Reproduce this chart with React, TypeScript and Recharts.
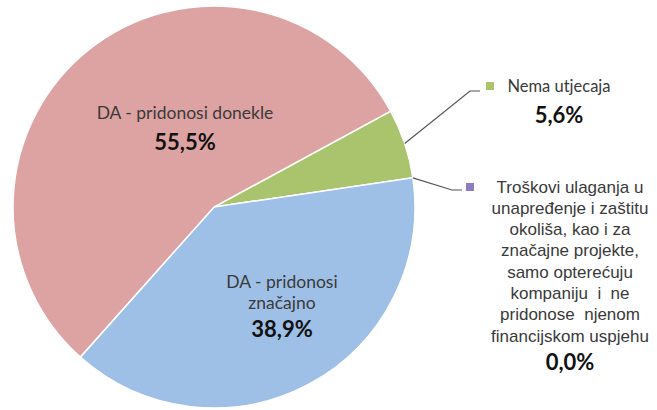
import React from "react";
import { Cell, Pie, PieChart } from "recharts";

// chart data (clockwise from the green slice)
const categories = [
  "Nema utjecaja",
  "Troškovi ulaganja u unapređenje i zaštitu okoliša, kao i za značajne projekte, samo opterećuju kompaniju i ne pridonose njenom financijskom uspjehu",
  "DA - pridonosi značajno",
  "DA - pridonosi donekle"
];
const shares = [5.6, 0.0, 38.9, 55.5];
// how each label is broken into lines, as in the original
const labelLines = [
  ["Nema utjecaja"],
  [
    "Troškovi ulaganja u",
    "unapređenje i zaštitu",
    "okoliša, kao i za",
    "značajne projekte,",
    "samo opterećuju",
    "kompaniju  i  ne",
    "pridonose  njenom",
    "financijskom uspjehu"
  ],
  ["DA - pridonosi", "značajno"],
  ["DA - pridonosi donekle"]
];
const colors = ["#a9c46c", "#8e7cc3", "#9ec0e6", "#dda3a2"];

const data = categories.map((name, i) => ({ name, value: shares[i] }));

const fmt = (v: number) => v.toFixed(1).replace(".", ",") + "%";

// label placement, relative to the pie centre
const inside = [
  null,
  null,
  { dx: 68, dy: 74, gap: 26 },
  { dx: -29, dy: -95, gap: 29 }
];
const outside = [
  { x: 345, y: -121, elbowX: 256, lineY: -116, gap: 28, size: 16.5, step: 21 },
  { x: 356, y: -20, elbowX: 238, lineY: -17, gap: 25, size: 17, step: 21.3 }
];

const renderLabel = (props: any) => {
  const { cx, cy, midAngle, outerRadius, index, value } = props;
  const lines = labelLines[index];
  const rad = Math.PI / 180;
  if (inside[index]) {
    const p = inside[index]!;
    const x = cx + p.dx;
    const y = cy + p.dy;
    return (
      <g key={`lbl-${index}`}>
        {lines.map((t, i) => (
          <text key={i} x={x} y={y + i * 21} textAnchor="middle" dominantBaseline="central"
            fontFamily="Lato, sans-serif" fontSize={17.5} fill="#3a3a3a">{t}</text>
        ))}
        <text x={x} y={y + (lines.length - 1) * 21 + p.gap} textAnchor="middle" dominantBaseline="central"
          fontFamily="Lato, sans-serif" fontSize={22} fontWeight="bold" fill="#111">{fmt(value)}</text>
      </g>
    );
  }
  const o = outside[index];
  const sx = cx + outerRadius * Math.cos(-midAngle * rad);
  const sy = cy + outerRadius * Math.sin(-midAngle * rad);
  const ex = cx + o.elbowX;
  const ly = cy + o.lineY;
  const isFirst = index === 0;
  const font = isFirst ? "Lato, sans-serif" : "'Liberation Sans', Arial, sans-serif";
  const tx = cx + o.x;
  const ty = cy + o.y;
  const markX = isFirst ? tx - 73 : tx - 104;
  return (
    <g key={`lbl-${index}`}>
      <polyline points={`${sx},${sy} ${ex},${ly} ${ex + 10},${ly}`} fill="none" stroke="#555" strokeWidth={1.2} />
      <rect x={markX} y={ty - 4} width={8} height={8} fill={colors[index]} />
      {lines.map((t, i) => (
        <text key={i} x={tx} y={ty + i * o.step} textAnchor="middle" dominantBaseline="central"
          fontFamily={font} fontSize={o.size} fill="#3a3a3a" style={{ whiteSpace: "pre" }}>{t}</text>
      ))}
      <text x={tx} y={ty + (lines.length - 1) * o.step + o.gap} textAnchor="middle" dominantBaseline="central"
        fontFamily="Lato, sans-serif" fontSize={22} fontWeight="bold" fill="#111">{fmt(value)}</text>
    </g>
  );
};

export default function App() {
  return (
    <div style={{ position: "absolute", left: 0, top: 0, width: 657, height: 410, background: "#fff" }}>
      <PieChart width={657} height={410} margin={{ top: 0, right: 0, bottom: 0, left: 0 }}>
        <Pie
          data={data}
          dataKey="value"
          nameKey="name"
          cx={214}
          cy={207}
          outerRadius={201}
          startAngle={28.5}
          endAngle={-331.5}
          stroke="#ffffff"
          strokeWidth={1.5}
          labelLine={false}
          label={renderLabel}
          isAnimationActive={false}
        >
          {data.map((d, i) => (
            <Cell key={d.name} fill={colors[i]} />
          ))}
        </Pie>
      </PieChart>
    </div>
  );
}
